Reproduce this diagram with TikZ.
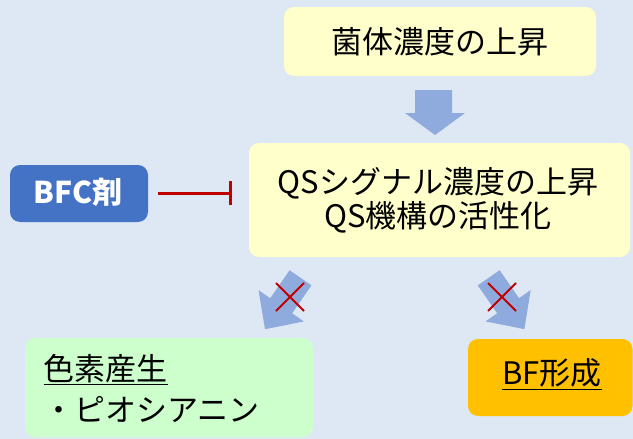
\documentclass[tikz,border=0pt]{standalone}
\usepackage{fontspec}
\setmainfont{Noto Sans CJK JP}
\usetikzlibrary{arrows.meta}
\definecolor{bgc}{RGB}{221,232,244}
\definecolor{ylw}{RGB}{255,255,204}
\definecolor{bfcblue}{RGB}{68,114,196}
\definecolor{arrc}{RGB}{143,170,220}
\definecolor{grn}{RGB}{204,255,204}
\definecolor{orng}{RGB}{255,192,0}
\definecolor{dred}{RGB}{192,0,0}
\tikzset{
  box/.style={rounded corners=10pt, inner sep=0pt},
  txt/.style={font=\fontsize{31}{34}\selectfont, align=center},
  blockarrow/.style={fill=arrc, draw=none},
  xmark/.style={draw=dred, line width=2pt},
  inhib/.style={draw=dred, line width=3pt, -{Bar[width=24pt,line width=3pt]}},
}
\begin{document}
\begin{tikzpicture}[x=1pt,y=-1pt]
\useasboundingbox (0,0) rectangle (633,439);
\fill[bgc] (0,0) rectangle (633,439);
% boxes
\fill[ylw, box] (284,7) rectangle (596,76);
\node[txt] (top) at (440,42) {菌体濃度の上昇};
\fill[ylw, box] (249,143) rectangle (630,257);
\node[txt] (mid) at (438,200) {QSシグナル濃度の上昇\\QS機構の活性化};
\coordinate (midw) at (249,193);
\fill[bfcblue, box] (10,165) rectangle (148,222);
\node[txt, text=white, font=\fontsize{30}{34}\selectfont\bfseries] (bfc) at (78,192.5) {BFC剤};
\coordinate (bfce) at (148,193);
\fill[grn, box] (25,338) rectangle (313,437);
\node[txt, align=left, anchor=west, font=\fontsize{31}{41}\selectfont] (pig) at (40,388.5) {\underline{色素産生}\\・ピオシアニン};
\fill[orng, box] (468,339) rectangle (632.5,416);
\node[txt] (bf) at (552,374) {\underline{BF形成}};
% inhibition
\draw[inhib] ([xshift=10pt]bfce) -- ([xshift=-17pt]midw);
% down arrow
\fill[blockarrow] (415,90) -- (452,90) -- (452,113) -- (465,113) -- (435,135) -- (405,113) -- (415,113) -- cycle;
% diagonal arrows
\begin{scope}[shift={(300.5,277.8)}, rotate=-124.6]
\fill[blockarrow] (0,-13.3) -- (34,-13.3) -- (34,-27.5) -- (62.5,0) -- (34,27.5) -- (34,13.3) -- (0,13.3) -- cycle;
\end{scope}
\begin{scope}[shift={(488.7,277.8)}, rotate=-55.2]
\fill[blockarrow] (0,-13.3) -- (34,-13.3) -- (34,-27.5) -- (62.5,0) -- (34,27.5) -- (34,13.3) -- (0,13.3) -- cycle;
\end{scope}
% crosses
\draw[xmark] (276,283) -- (304,311) (304,283) -- (276,311);
\draw[xmark] (488,283) -- (516,311) (516,283) -- (488,311);
\end{tikzpicture}
\end{document}
